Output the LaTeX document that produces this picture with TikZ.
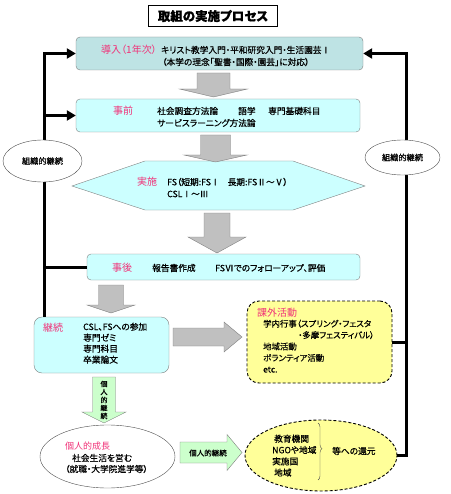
\documentclass[tikz,border=0pt]{standalone}
\usepackage{fontspec}
\setmainfont[RawFeature=+palt,FakeBold=0.6]{Noto Sans CJK JP}
\newfontfamily\labelfont[RawFeature=+palt]{Noto Sans CJK JP}
\usetikzlibrary{arrows.meta,decorations.pathreplacing,shapes.geometric}

\definecolor{boxteal}{RGB}{190,227,228}
\definecolor{boxcyan}{RGB}{204,255,255}
\definecolor{boxedge}{RGB}{128,128,128}
\definecolor{arrowgray}{RGB}{192,192,192}
\definecolor{arrowgreen}{RGB}{204,255,204}
\definecolor{noteyellow}{RGB}{255,255,153}
\definecolor{labelpink}{RGB}{240,50,120}

% block arrow pointing down: style, x, top, head base, tip, shaft half, head half
\newcommand{\blockdown}[7]{%
  \draw[#1] ({#2-#6},#3) -- ({#2+#6},#3) -- ({#2+#6},#4) -- ({#2+#7},#4)
    -- (#2,#5) -- ({#2-#7},#4) -- ({#2-#6},#4) -- cycle;}
% block arrow pointing right: style, y, left, head base, tip, shaft half, head half
\newcommand{\blockright}[7]{%
  \draw[#1] (#3,{#2-#6}) -- (#4,{#2-#6}) -- (#4,{#2-#7}) -- (#5,#2)
    -- (#4,{#2+#7}) -- (#4,{#2+#6}) -- (#3,{#2+#6}) -- cycle;}

\begin{document}
\begin{tikzpicture}[x=1pt,y=-1pt]

	\tikzset{
	  stagebox/.style={
		draw=boxedge,
		fill=boxcyan,
		rounded corners=4pt,
		inner sep=0pt,
	  },
	  notebox/.style={
		draw=black,
		fill=noteyellow,
		densely dashed,
		line width=0.9pt,
		inner sep=0pt,
	  },
	  looptag/.style={
		draw=black!70,
		fill=white,
		ellipse,
		inner sep=0pt,
		font=\fontsize{8.2}{9}\selectfont,
	  },
	  txt/.style={anchor=west,inner sep=0pt,font=\fontsize{8.7}{11}\selectfont,align=left},
	  lbl/.style={anchor=west,inner sep=0pt,text=labelpink,font=\labelfont\fontsize{10}{12}\selectfont},
	  flow/.style={line width=3pt},
	  grayarrow/.style={draw=boxedge,fill=arrowgray},
	  greenarrow/.style={draw=boxedge,fill=arrowgreen},
	}
	\useasboundingbox (0,0) rectangle (450,494);

	% title
	\node[draw,line width=1.5pt,minimum width=129pt,minimum height=21pt,inner sep=0pt,
	      font=\fontsize{12.5}{14}\bfseries] (title) at (213,16) {取組の実施プロセス};

	% stages
	\node[stagebox,fill=boxteal,minimum width=287pt,minimum height=33pt] (dounyu) at (219.5,53.5) {};
	\node[stagebox,minimum width=284pt,minimum height=33pt] (jizen) at (218,115.5) {};
	\draw[draw=boxedge,fill=boxcyan] (72,186) -- (145,161) -- (293,161) -- (365,186) -- (293,210) -- (145,210) -- cycle;
	\node[stagebox,minimum width=273pt,minimum height=26pt] (jigo) at (223.5,267) {};
	\node[stagebox,rounded corners=8pt,minimum width=135pt,minimum height=56pt] (keizoku) at (101.5,345) {};
	\node[notebox,rounded corners=12pt,minimum width=145pt,minimum height=82pt] (kagai) at (319.5,342) {};
	\node[draw=black!70,ellipse,minimum width=135pt,minimum height=63pt,inner sep=0pt] (seicho) at (107.5,456.5) {};
	\node[notebox,ellipse,minimum width=152pt,minimum height=71pt] (kangen) at (321,455.5) {};

	% block arrows
	\blockdown{grayarrow}{213.5}{73}{89}{97}{16.5}{34}
	\blockdown{grayarrow}{215.5}{135}{155}{162}{15}{31.5}
	\blockdown{grayarrow}{217}{213}{237}{253}{13}{29}
	\blockdown{grayarrow}{111}{285}{305}{313}{12.5}{24}
	\blockright{grayarrow}{337}{173}{224}{242}{9}{15}
	\blockdown{greenarrow}{104}{377}{412}{423}{11.5}{22}
	\blockright{greenarrow}{452.5}{180}{227}{242}{10.5}{18}

	% loop lines
	\coordinate (lx) at (44,0);
	\coordinate (rx) at (406,0);
	\draw[flow,-{Triangle[length=9pt,width=10pt]}] (lx |- keizoku.north) |- (dounyu.west);
	\draw[flow,-{Triangle[length=9pt,width=10pt]}] (lx |- jizen.west) -- (jizen.west);
	\draw[flow] (lx |- jigo.west) -- (jigo.west);
	\draw[flow] (kagai.east) -- (kagai.east -| rx);
	\draw[flow,-{Triangle[length=9pt,width=10pt]}] (kangen.east) -- (kangen.east -| rx) -- (rx |- dounyu.east) -- (dounyu.east);
	\node[looptag,minimum width=79pt,minimum height=42pt] (loopL) at (42.5,161) {組織的継続};
	\node[looptag,minimum width=75pt,minimum height=35pt] (loopR) at (402.5,157.5) {組織的継続};

	% texts
	\node[lbl] (dounyuL) at (101,50) {導入（1年次）};
	\node[txt] (dounyuA) at (161,50) {キリスト教学入門・平和研究入門・生活園芸Ⅰ};
	\node[txt] (dounyuB) at (162,62) {（本学の理念「聖書・国際・園芸」に対応）};
	\node[lbl] (jizenL) at (113,111) {事前};
	\node[txt] (jizenA) at (157,111) {社会調査方法論};
	\node[txt] (jizenB) at (238,111) {語学};
	\node[txt] (jizenC) at (268,111) {専門基礎科目};
	\node[txt] (jizenD) at (157,123) {サービスラーニング方法論};
	\node[lbl] (jisshiL) at (137,182) {実施};
	\node[txt] (jisshiA) at (167,182) {FS（短期:FSⅠ\hspace{8pt}長期:FSⅡ～Ⅴ）};
	\node[txt] (jisshiB) at (167,194) {CSLⅠ～Ⅲ};
	\node[lbl] (jigoL) at (112,268) {事後};
	\node[txt] (jigoA) at (152,268) {報告書作成};
	\node[txt] (jigoB) at (215,268) {FSⅥでのフォローアップ、評価};
	\node[lbl] (keizokuL) at (43,328) {継続};
	\node[txt,anchor=north west] (keizokuA) at (83,322.5) {CSL、FSへの参加\\専門ゼミ\\専門科目\\卒業論文};
	\node[lbl] (kagaiL) at (257,313) {課外活動};
	\node[txt,anchor=north west,font=\fontsize{8.4}{11.4}\selectfont] (kagaiA) at (263,319.5)
	  {学内行事（スプリング・フェスタ\\\hspace*{35pt}・多摩フェスティバル）\\地域活動\\ボランティア活動\\etc.};
	\node[inner sep=0pt,align=center,font=\fontsize{7}{8}\selectfont] (greenV) at (104,400) {個\\人\\的\\継\\続};
	\node[inner sep=0pt,font=\fontsize{7.5}{9}\selectfont] (greenH) at (208,453) {個人的継続};
	\node[lbl,font=\labelfont\fontsize{9}{11}\selectfont] (seichoL) at (65,446) {個人的成長};
	\node[txt] (seichoA) at (72,458) {社会生活を営む};
	\node[txt] (seichoB) at (65,469) {（就職・大学院進学等）};
	\node[txt,anchor=north west,font=\fontsize{8.7}{11.3}\selectfont] (kangenA) at (272,434.5) {\hspace*{2pt}教育機関\\NGOや地域\\実施国\\\hspace*{2pt}地域};
	\draw[draw=black!70,decorate,decoration={brace,amplitude=4pt,aspect=0.45}] (318,423) -- (318,480);
	\node[txt] (kangenB) at (332,451) {等への還元};

\end{tikzpicture}
\end{document}
